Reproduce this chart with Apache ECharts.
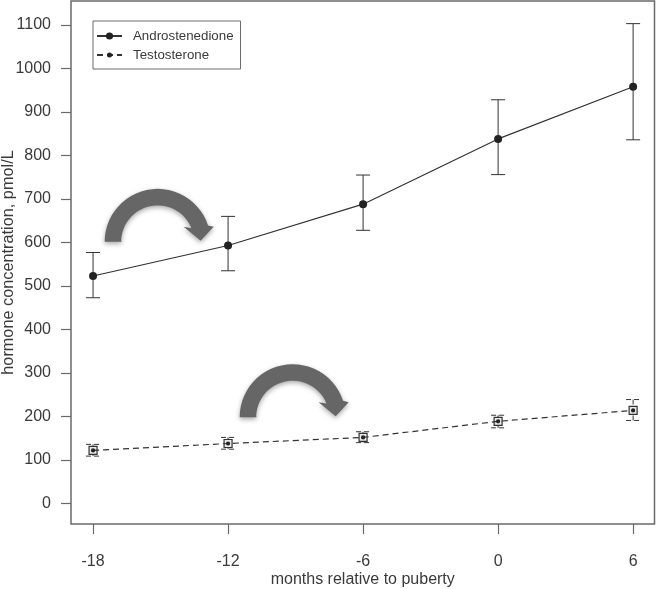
<!DOCTYPE html>
<html>
<head>
<meta charset="utf-8">
<style>html,body{margin:0;padding:0;background:#fff}#c{width:656px;height:589px}</style>
<script src="https://cdn.jsdelivr.net/npm/echarts@6/dist/echarts.min.js"></script>
</head>
<body>
<div id="c"></div>
<script>
const months = [-18, -12, -6, 0, 6];
const androMean = [523, 593, 688, 838, 958];
const androLow = [473, 535, 628, 756, 836];
const androHigh = [577, 660, 755, 928, 1103];
const testoMean = [122, 138, 152, 189, 214];
const testoLow = [109, 125, 140, 174, 191];
const testoHigh = [136, 152, 165, 203, 239];
const yTicks = [0, 100, 200, 300, 400, 500, 600, 700, 800, 900, 1000, 1100];
const arrowAnchors = [[-17.44, 606], [-11.44, 203]];

const TEXT = '#3a3a3a', AXIS = '#6a6a6a', LINE = '#333333';
const font = '"Liberation Sans", Arial, sans-serif';

function errorSeries(name, low, high, dashed, square, mean) {
  return {
    type: 'custom', name, z: 3, silent: true,
    data: months.map((m, i) => [m, low[i], high[i], mean[i]]),
    encode: { x: 0, y: [1, 2] },
    renderItem(params, api) {
      const lo = api.coord([api.value(0), api.value(1)]);
      const hi = api.coord([api.value(0), api.value(2)]);
      const mid = api.coord([api.value(0), api.value(3)]);
      const style = { stroke: LINE, lineWidth: 1, fill: null, lineDash: dashed ? [5, 3] : null };
      const cap = 7;
      const children = [
        { type: 'line', shape: { x1: lo[0], y1: lo[1], x2: hi[0], y2: hi[1] }, style },
        { type: 'line', shape: { x1: lo[0] - cap, y1: lo[1], x2: lo[0] + cap, y2: lo[1] }, style },
        { type: 'line', shape: { x1: hi[0] - cap, y1: hi[1], x2: hi[0] + cap, y2: hi[1] }, style }
      ];
      if (square) {
        children.push({ type: 'rect', shape: { x: mid[0] - 4, y: mid[1] - 4, width: 8, height: 8 },
          style: { stroke: LINE, lineWidth: 1.2, fill: '#e8e8e8' } });
      }
      return { type: 'group', children };
    }
  };
}

function arrowPoints(px, py) {
  const pts = [];
  const cx = 52, cy = 2, R = 53, r = 36.5, endDeg = 17;
  for (let a = 180; a >= endDeg; a -= 6) {
    const t = a * Math.PI / 180;
    pts.push([px + cx + R * Math.cos(t), py + cy - R * Math.sin(t)]);
  }
  pts.push([px + 108, py - 13], [px + 95, py + 1], [px + 78, py - 13]);
  for (let a = 22; a <= 180; a += 6) {
    const t = a * Math.PI / 180;
    pts.push([px + cx + r * Math.cos(t), py + cy - r * Math.sin(t)]);
  }
  pts.push([px + 16, py + 2]);
  return pts;
}

const chart = echarts.init(document.getElementById('c'), null, { renderer: 'canvas' });
chart.setOption({
  animation: false,
  backgroundColor: '#ffffff',
  grid: { left: 71, top: 1, width: 583.5, height: 523, outerBoundsMode: 'none', containLabel: false, show: true, borderColor: AXIS, borderWidth: 1.5, backgroundColor: 'transparent' },
  legend: {
    data: ['Androstenedione', 'Testosterone'],
    orient: 'vertical', left: 93, top: 21, align: 'left',
    padding: [8, 7, 7, 3], itemWidth: 25, itemHeight: 9, itemGap: 5,
    borderColor: AXIS, borderWidth: 1, borderRadius: 0, backgroundColor: '#fff',
    textStyle: { fontFamily: font, fontSize: 13.3, color: TEXT, lineHeight: 14, padding: [0, 0, 0, 6] }
  },
  xAxis: {
    type: 'value', min: -18.98, max: 6.95,
    name: 'months relative to puberty', nameLocation: 'middle', nameGap: 48, nameMoveOverlap: false,
    nameTextStyle: { fontFamily: font, fontSize: 16, color: TEXT },
    axisLine: { show: false, onZero: false },
    splitLine: { show: false },
    axisTick: { show: true, length: 10, customValues: months, lineStyle: { color: AXIS, width: 1.2 } },
    axisLabel: { margin: 30, customValues: months, formatter: v => String(v), fontFamily: font, fontSize: 16, color: TEXT }
  },
  yAxis: {
    type: 'value', min: -47, max: 1155,
    name: 'hormone concentration, pmol/L', nameLocation: 'middle', nameGap: 54, nameRotate: 90, nameMoveOverlap: false,
    nameTextStyle: { fontFamily: font, fontSize: 16.3, color: TEXT },
    axisLine: { show: false, onZero: false },
    splitLine: { show: false },
    axisTick: { show: true, length: 10, customValues: yTicks, lineStyle: { color: AXIS, width: 1.2 } },
    axisLabel: { margin: 20, customValues: yTicks, formatter: v => String(v), fontFamily: font, fontSize: 16, color: TEXT }
  },
  series: [
    {
      type: 'custom', name: 'arrows', z: 1, silent: true,
      data: arrowAnchors, encode: { x: 0, y: 1 },
      renderItem(params, api) {
        const p = api.coord([api.value(0), api.value(1)]);
        return { type: 'polygon', shape: { points: arrowPoints(p[0], p[1]) },
          style: { fill: '#666666', shadowBlur: 5, shadowOffsetY: 2, shadowColor: 'rgba(0,0,0,0.35)' } };
      }
    },
    errorSeries('Androstenedione error', androLow, androHigh, false, false, androMean),
    errorSeries('Testosterone error', testoLow, testoHigh, true, true, testoMean),
    {
      type: 'line', name: 'Androstenedione', z: 4, silent: true,
      data: months.map((m, i) => [m, androMean[i]]),
      symbol: 'circle', symbolSize: 8,
      lineStyle: { color: LINE, width: 1.2 }, itemStyle: { color: '#222222' }
    },
    {
      type: 'line', name: 'Testosterone', z: 4, silent: true,
      data: months.map((m, i) => [m, testoMean[i]]),
      symbol: 'path://M0 0L0 0M20 0L20 0M20 20L20 20M0 20L0 20M10 3a7 7 0 1 0 .01 0z', symbolSize: 6,
      lineStyle: { color: LINE, width: 1.2, type: [6, 4] }, itemStyle: { color: '#222222' }
    }
  ]
});
</script>
</body>
</html>
